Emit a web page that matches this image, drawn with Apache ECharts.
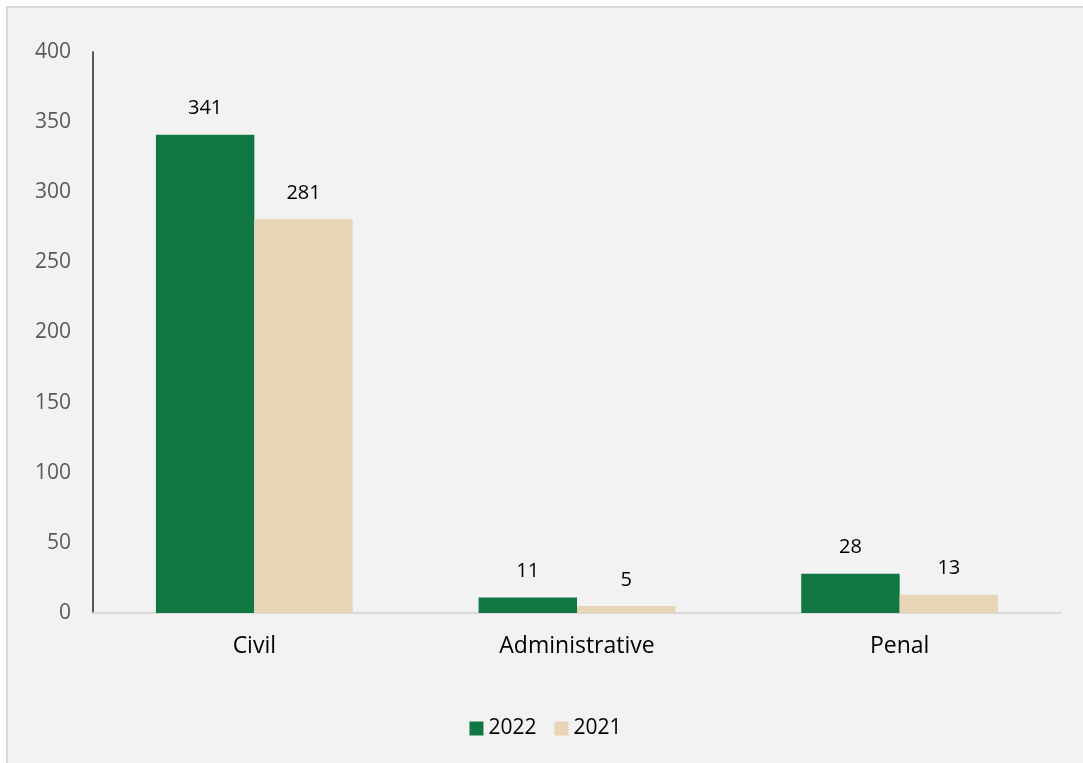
<!DOCTYPE html>
<html>
<head>
<meta charset="utf-8">
<script src="https://cdn.jsdelivr.net/npm/echarts@6/dist/echarts.min.js"></script>
<style>
  html, body { margin: 0; padding: 0; background: #ffffff; }
  #chart { position: absolute; left: 6px; top: 6px; width: 1077px; height: 757px;
           background: #f2f2f2; border-top: 2px solid #d9d9d9; border-left: 2px solid #d9d9d9; box-sizing: border-box; }
</style>
</head>
<body>
<div id="chart"></div>
<script>
const categories = ['Civil', 'Administrative', 'Penal'];
const seriesNames = ['2022', '2021'];
const values2022 = [341, 11, 28];
const values2021 = [281, 5, 13];
const yTicks = [0, 50, 100, 150, 200, 250, 300, 350, 400];

const FONT = '"Open Sans", "Liberation Sans", sans-serif';
const chart = echarts.init(document.getElementById('chart'), null, { renderer: 'canvas' });
const labelCfg = { show: true, position: 'top', distance: 16, color: '#000000', fontSize: 20, fontFamily: FONT };
chart.setOption({
  backgroundColor: 'transparent',
  animation: false,
  grid: { left: 85, top: 44, right: 22, bottom: 150, containLabel: false },
  legend: {
    data: seriesNames,
    bottom: 19,
    left: 'center',
    itemWidth: 14, itemHeight: 14, itemGap: 18,
    icon: 'rect',
    textStyle: { color: '#000000', fontSize: 21, fontFamily: FONT }
  },
  xAxis: {
    type: 'category',
    data: categories,
    axisLine: { lineStyle: { color: '#d9d9d9', width: 2 } },
    axisTick: { show: false },
    axisLabel: { color: '#000000', fontSize: 23, fontFamily: FONT, margin: 22 }
  },
  yAxis: {
    type: 'value',
    min: yTicks[0], max: yTicks[yTicks.length - 1], interval: 50,
    axisLine: { show: true, lineStyle: { color: '#595959', width: 2 } },
    axisTick: { show: false },
    splitLine: { show: false },
    axisLabel: { color: '#595959', fontSize: 21, fontFamily: FONT, margin: 22 }
  },
  series: [
    { name: seriesNames[0], type: 'bar', data: values2022, barGap: '0%', barCategoryGap: '39%',
      itemStyle: { color: '#107642' }, label: labelCfg },
    { name: seriesNames[1], type: 'bar', data: values2021, barGap: '0%', barCategoryGap: '39%',
      itemStyle: { color: '#e8d5b5' }, label: labelCfg }
  ]
});
</script>
</body>
</html>
